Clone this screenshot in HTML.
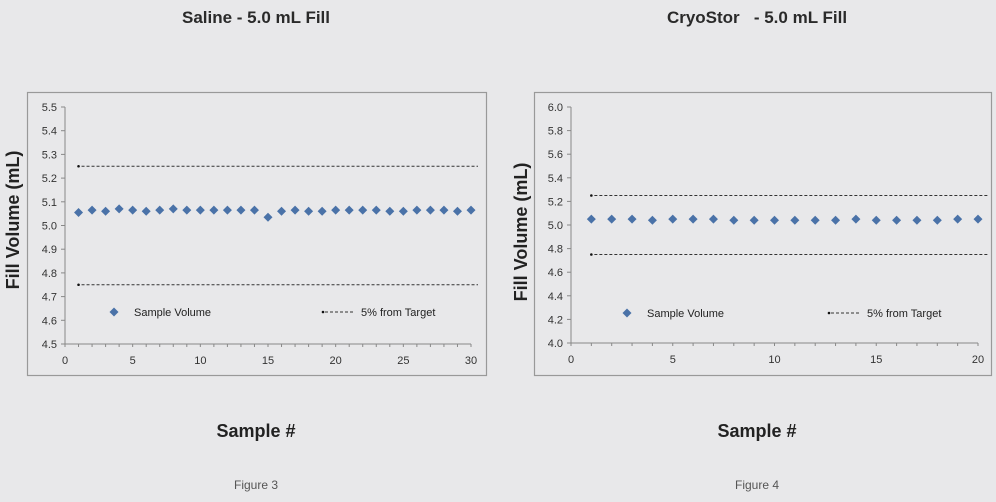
<!DOCTYPE html>
<html><head><meta charset="utf-8"><style>
html,body{margin:0;padding:0;background:#e8e8ea;}
svg{display:block;font-family:"Liberation Sans",sans-serif;}
</style></head><body>
<svg id="s" width="996" height="502" viewBox="0 0 996 502">
<rect width="996" height="502" fill="#e8e8ea"/>
<text x="256" y="23" font-size="17" font-weight="bold" text-anchor="middle" fill="#2a2a2a">Saline - 5.0 mL Fill</text>
<text x="757" y="23" font-size="17" font-weight="bold" text-anchor="middle" fill="#2a2a2a">CryoStor &#160;&#160;- 5.0 mL Fill</text>
<rect x="27.5" y="92.5" width="459" height="283" fill="none" stroke="#999" stroke-width="1.2"/>
<rect x="534.5" y="92.5" width="457" height="283" fill="none" stroke="#999" stroke-width="1.2"/>
<text transform="translate(19,220) rotate(-90)" font-size="18" font-weight="bold" text-anchor="middle" fill="#222">Fill Volume (mL)</text>
<text transform="translate(527,232) rotate(-90)" font-size="18" font-weight="bold" text-anchor="middle" fill="#222">Fill Volume (mL)</text>
<text x="256" y="437" font-size="18" font-weight="bold" text-anchor="middle" fill="#222">Sample #</text>
<text x="757" y="437" font-size="18" font-weight="bold" text-anchor="middle" fill="#222">Sample #</text>
<text x="256" y="489" font-size="12" text-anchor="middle" fill="#555">Figure 3</text>
<text x="757" y="489" font-size="12" text-anchor="middle" fill="#555">Figure 4</text>
<g id="g"></g>
</svg>
<script>
var g=document.getElementById('g'),h='';
function chart(o){
 var X=function(v){return o.x0+(v-o.xmin)*(o.x1-o.x0)/(o.xmax-o.xmin)};
 var Y=function(v){return o.y0+(v-o.ymin)*(o.y1-o.y0)/(o.ymax-o.ymin)};
 h+='<line x1="'+o.x0+'" y1="'+o.y1+'" x2="'+o.x0+'" y2="'+o.y0+'" stroke="#888"/>';
 h+='<line x1="'+o.x0+'" y1="'+o.y0+'" x2="'+o.x1+'" y2="'+o.y0+'" stroke="#888"/>';
 for(var v=o.ymin;v<=o.ymax+1e-9;v+=o.ystep){var y=Y(v);
  h+='<line x1="'+(o.x0-4)+'" y1="'+y+'" x2="'+o.x0+'" y2="'+y+'" stroke="#888"/>';
  h+='<text x="'+(o.x0-8)+'" y="'+(y+4)+'" font-size="11" text-anchor="end" fill="#333">'+v.toFixed(1)+'</text>';}
 for(var i=0;i<=o.xmax;i++){var x=X(i);
  h+='<line x1="'+x+'" y1="'+o.y0+'" x2="'+x+'" y2="'+(o.y0+3)+'" stroke="#888"/>';
  if(i%5==0)h+='<text x="'+x+'" y="'+(o.y0+20)+'" font-size="11" text-anchor="middle" fill="#333">'+i+'</text>';}
 [5.25,4.75].forEach(function(v){var y=Y(v);
  h+='<circle cx="'+X(1)+'" cy="'+y+'" r="1.3" fill="#111"/>';
  h+='<line x1="'+(X(1)+3)+'" y1="'+y+'" x2="'+o.dend+'" y2="'+y+'" stroke="#333" stroke-width="0.9" stroke-dasharray="3,2"/>';});
 o.data.forEach(function(v,i){var x=X(i+1),y=Y(v);
  h+='<path d="M'+x+' '+(y-4.5)+'L'+(x+4.5)+' '+y+'L'+x+' '+(y+4.5)+'L'+(x-4.5)+' '+y+'Z" fill="#4a72a8"/>';});
 var ly=o.ly;
 h+='<path d="M'+o.lx+' '+(ly-4.5)+'L'+(o.lx+4.5)+' '+ly+'L'+o.lx+' '+(ly+4.5)+'L'+(o.lx-4.5)+' '+ly+'Z" fill="#4a72a8"/>';
 h+='<text x="'+(o.lx+20)+'" y="'+(ly+4)+'" font-size="11" fill="#222">Sample Volume</text>';
 h+='<circle cx="'+o.l2+'" cy="'+ly+'" r="1.3" fill="#111"/>';
 h+='<line x1="'+(o.l2+2)+'" y1="'+ly+'" x2="'+(o.l2+32)+'" y2="'+ly+'" stroke="#333" stroke-width="0.9" stroke-dasharray="3,2"/>';
 h+='<text x="'+(o.l2+38)+'" y="'+(ly+4)+'" font-size="11" fill="#222">5% from Target</text>';
}
chart({x0:65,x1:471,y0:344,y1:107,xmin:0,xmax:30,ymin:4.5,ymax:5.5,ystep:0.1,dend:478,lx:114,ly:312,l2:323,
 data:[5.055,5.065,5.06,5.07,5.065,5.06,5.065,5.07,5.065,5.065,5.065,5.065,5.065,5.065,5.035,5.06,5.065,5.06,5.06,5.065,5.065,5.065,5.065,5.06,5.06,5.065,5.065,5.065,5.06,5.065]});
chart({x0:571,x1:978,y0:343,y1:107,xmin:0,xmax:20,ymin:4.0,ymax:6.0,ystep:0.2,dend:989,lx:627,ly:313,l2:829,
 data:[5.05,5.05,5.05,5.04,5.05,5.05,5.05,5.04,5.04,5.04,5.04,5.04,5.04,5.05,5.04,5.04,5.04,5.04,5.05,5.05]});
g.innerHTML=h;
</script>
</body></html>
